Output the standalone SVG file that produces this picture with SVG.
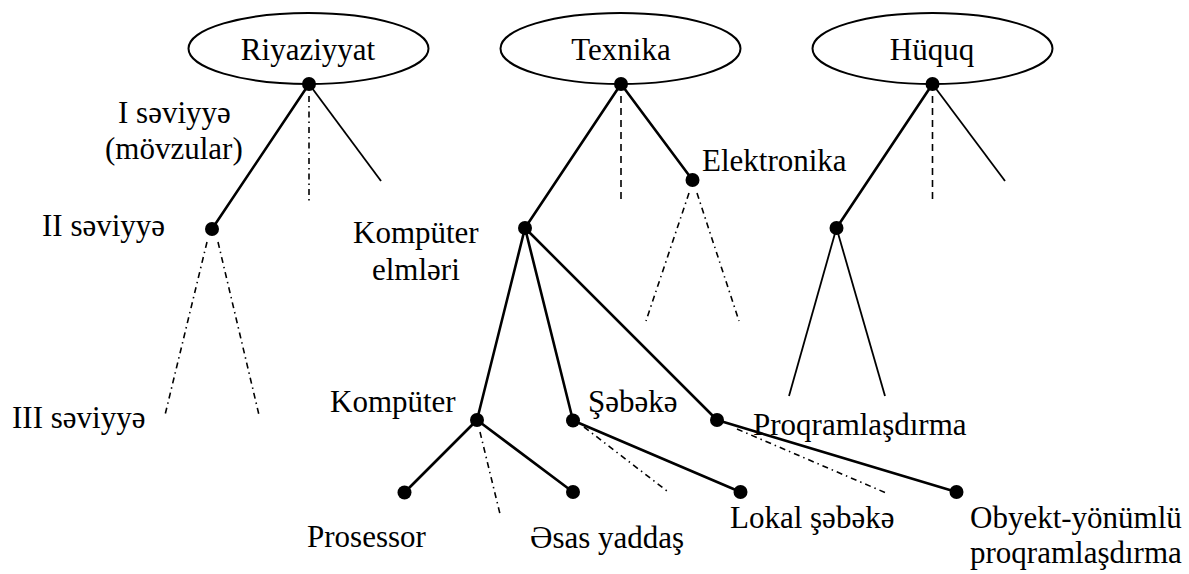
<svg xmlns="http://www.w3.org/2000/svg" width="1189" height="574" viewBox="0 0 1189 574">
  <style>
    text { font-family: 'Liberation Serif', 'Times New Roman', Times, 'DejaVu Serif', serif; font-size: 31px; fill: #000; }
    .mid { text-anchor: middle; }
    .topic { fill: #fff; stroke: #000; stroke-width: 2; }
    .dot { fill: #000; }
    .thick { stroke: #000; stroke-width: 2.6; fill: none; stroke-linecap: round; }
    .thin { stroke: #000; stroke-width: 1.8; fill: none; }
    .dash { stroke: #000; stroke-width: 1.6; fill: none; stroke-dasharray: 7 5; }
    .dashdot { stroke: #000; stroke-width: 1.6; fill: none; stroke-dasharray: 6 4 1.5 4; }
  </style>

  <!-- top-level subject ellipses -->
  <g id="riyaziyyat">
    <ellipse class="topic" cx="308.5" cy="48.5" rx="120" ry="35.5"/>
    <text class="mid" x="308" y="60" font-family="Liberation Serif, serif">Riyaziyyat</text>
  </g>
  <g id="texnika">
    <ellipse class="topic" cx="620.5" cy="48.5" rx="120" ry="35.5"/>
    <text class="mid" x="621" y="60">Texnika</text>
  </g>
  <g id="huquq">
    <ellipse class="topic" cx="932.5" cy="48.5" rx="120" ry="35.5"/>
    <text class="mid" x="932" y="60">Hüquq</text>
  </g>

  <!-- edges -->
  <g id="connectors">
    <!-- Riyaziyyat branch -->
    <line class="thick" x1="309" y1="84" x2="212" y2="229"/>
    <line class="dashdot" x1="309" y1="96" x2="309" y2="202"/>
    <line class="thin" x1="309" y1="84" x2="381" y2="181"/>
    <line class="dashdot" x1="207" y1="242" x2="165" y2="415"/>
    <line class="dashdot" x1="218" y1="242" x2="259" y2="415"/>

    <!-- Texnika branch -->
    <line class="thick" x1="621" y1="84" x2="525" y2="228"/>
    <line class="dash" x1="621" y1="96" x2="621" y2="202"/>
    <line class="thick" x1="621" y1="84" x2="692.5" y2="180"/>
    <line class="dashdot" x1="689" y1="193" x2="646" y2="321"/>
    <line class="dashdot" x1="697" y1="193" x2="739" y2="321"/>

    <!-- Kompüter elmləri children -->
    <line class="thick" x1="525" y1="228" x2="477" y2="420"/>
    <line class="thick" x1="525" y1="228" x2="573" y2="420.5"/>
    <line class="thick" x1="525" y1="228" x2="717" y2="420"/>

    <!-- Kompüter children -->
    <line class="thick" x1="477" y1="420" x2="404.5" y2="492.5"/>
    <line class="thick" x1="477" y1="420" x2="573" y2="492"/>
    <line class="dashdot" x1="480" y1="432" x2="500" y2="514"/>

    <!-- Şəbəkə children -->
    <line class="thick" x1="573" y1="420.5" x2="740.5" y2="492"/>
    <line class="dashdot" x1="584" y1="427" x2="667" y2="491"/>

    <!-- Proqramlaşdırma children -->
    <line class="thick" x1="717" y1="420" x2="956.5" y2="492"/>
    <line class="dashdot" x1="737" y1="429" x2="885" y2="492.5"/>

    <!-- Hüquq branch -->
    <line class="thick" x1="932.5" y1="84" x2="836.5" y2="228"/>
    <line class="dash" x1="932.5" y1="96" x2="932.5" y2="202"/>
    <line class="thin" x1="932.5" y1="84" x2="1005" y2="181"/>
    <line class="thin" x1="836.5" y1="228" x2="789" y2="396"/>
    <line class="thin" x1="836.5" y1="228" x2="885" y2="396"/>
  </g>

  <!-- junction nodes -->
  <g id="riyaziyyat-root"><circle class="dot" cx="309" cy="84" r="7"/></g>
  <g id="texnika-root"><circle class="dot" cx="621" cy="84" r="7"/></g>
  <g id="huquq-root"><circle class="dot" cx="932.5" cy="84" r="7"/></g>

  <g id="level-1">
    <text x="118" y="123">I səviyyə</text>
    <text x="105" y="159">(mövzular)</text>
  </g>

  <g id="level-2">
    <circle class="dot" cx="212" cy="229" r="7"/>
    <text x="42" y="236">II səviyyə</text>
  </g>

  <g id="level-3">
    <text x="12" y="428">III səviyyə</text>
  </g>

  <g id="elektronika">
    <circle class="dot" cx="692.5" cy="180" r="7"/>
    <text x="702" y="171">Elektronika</text>
  </g>

  <g id="komputer-elmleri">
    <circle class="dot" cx="525" cy="228" r="7"/>
    <text x="353" y="243">Kompüter</text>
    <text x="372" y="280">elmləri</text>
  </g>

  <g id="huquq-child">
    <circle class="dot" cx="836.5" cy="228" r="7"/>
  </g>

  <g id="komputer">
    <circle class="dot" cx="477" cy="420" r="7"/>
    <text x="330" y="412">Kompüter</text>
  </g>

  <g id="sebeke">
    <circle class="dot" cx="573" cy="420.5" r="7"/>
    <text x="588" y="412">Şəbəkə</text>
  </g>

  <g id="proqramlasdirma">
    <circle class="dot" cx="717" cy="420" r="7"/>
    <text x="753" y="435">Proqramlaşdırma</text>
  </g>

  <g id="prosessor">
    <circle class="dot" cx="404.5" cy="492.5" r="7"/>
    <text x="307" y="547">Prosessor</text>
  </g>

  <g id="esas-yaddas">
    <circle class="dot" cx="573" cy="492" r="7"/>
    <text x="530" y="548">Əsas yaddaş</text>
  </g>

  <g id="lokal-sebeke">
    <circle class="dot" cx="740.5" cy="492" r="7"/>
    <text x="730" y="528">Lokal şəbəkə</text>
  </g>

  <g id="obyekt-yonumlu">
    <circle class="dot" cx="956.5" cy="492" r="7"/>
    <text x="970" y="528">Obyekt-yönümlü</text>
    <text x="970" y="563">proqramlaşdırma</text>
  </g>
</svg>
